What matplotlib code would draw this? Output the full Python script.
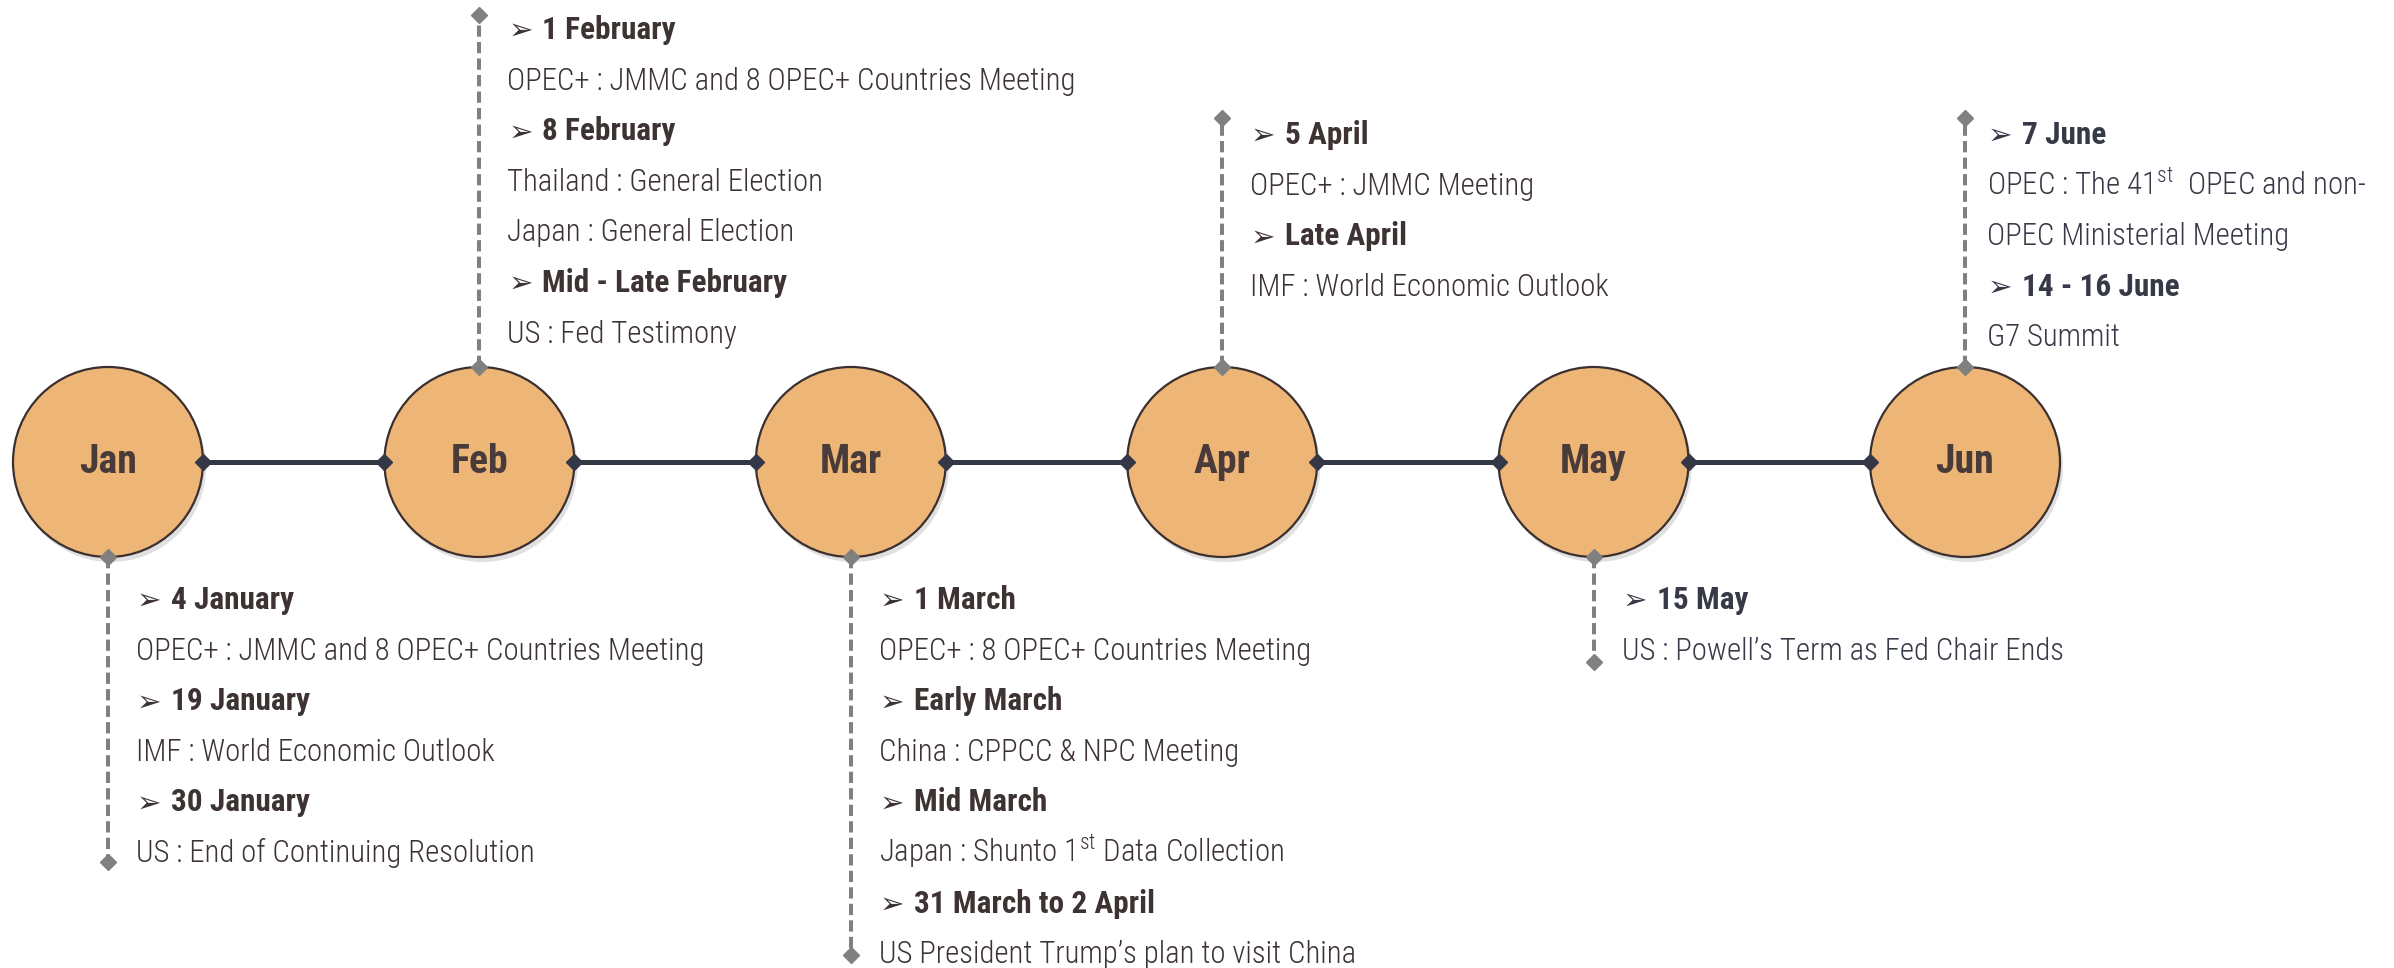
import matplotlib
matplotlib.use("Agg")
from matplotlib import pyplot as plt
from matplotlib import font_manager
from matplotlib.patches import Circle

# ---- data ----
months = ["Jan", "Feb", "Mar", "Apr", "May", "Jun"]

jan_events = [("4 January", ["OPEC+ : JMMC and 8 OPEC+ Countries Meeting"]),
              ("19 January", ["IMF : World Economic Outlook"]),
              ("30 January", ["US : End of Continuing Resolution"])]
feb_events = [("1 February", ["OPEC+ : JMMC and 8 OPEC+ Countries Meeting"]),
              ("8 February", ["Thailand : General Election", "Japan : General Election"]),
              ("Mid - Late February", ["US : Fed Testimony"])]
mar_events = [("1 March", ["OPEC+ : 8 OPEC+ Countries Meeting"]),
              ("Early March", ["China : CPPCC & NPC Meeting"]),
              ("Mid March", [r"Japan : Shunto 1$^{\mathrm{st}}$ Data Collection"]),
              ("31 March to 2 April", ["US President Trump\u2019s plan to visit China"])]
apr_events = [("5 April", ["OPEC+ : JMMC Meeting"]),
              ("Late April", ["IMF : World Economic Outlook"])]
may_events = [("15 May", ["US : Powell\u2019s Term as Fed Chair Ends"])]
jun_events = [("7 June", [r"OPEC : The 41$^{\mathrm{st}}$  OPEC and non-", "OPEC Ministerial Meeting"]),
              ("14 - 16 June", ["G7 Summit"])]

month_events = [jan_events, feb_events, mar_events, apr_events, may_events, jun_events]

# ---- layout ----
W, H = 2394, 968
x_first, x_step = 108, 371.4
cy, radius = 462, 95
side = ["below", "above", "below", "above", "below", "above"]
first_line_y = [598, 28, 598, 133, 598, 133]
stem_end = [862, 15, 955, 118, 662, 118]
text_dx = [0, 0, 0, 0, 0, -6]
line_gap = 50.6

fill_col = "#EDB677"
edge_col = "#3b2f2f"
link_col = "#343745"
stem_col = "#808080"
text_cols = ["#3d3333", "#3d3333", "#3d3333", "#3d3333", "#363a47", "#363a47"]

names = {f.name for f in font_manager.fontManager.ttflist}
body_font = "DejaVu Sans"
for cand in ["Roboto Condensed", "Liberation Sans Narrow", "Roboto", "Open Sans"]:
    if cand in names:
        body_font = cand
        break
body_weight = "light" if body_font.startswith("Roboto") else "normal"

plt.rcParams["mathtext.fontset"] = "custom"
plt.rcParams["mathtext.rm"] = body_font + ":" + body_weight
plt.rcParams["mathtext.it"] = body_font + ":" + body_weight
plt.rcParams["mathtext.bf"] = body_font

fig = plt.figure(figsize=(W / 100, H / 100), dpi=100)
ax = fig.add_axes([0, 0, 1, 1])
ax.set_xlim(0, W)
ax.set_ylim(H, 0)
ax.axis("off")
renderer = fig.canvas.get_renderer()


def fit_size(text, target_px, **kw):
    t = ax.text(0, 0, text, fontsize=20, **kw)
    w = t.get_window_extent(renderer).width
    t.remove()
    return 20 * target_px / w


body_size = fit_size("OPEC+ : JMMC and 8 OPEC+ Countries Meeting", 568,
                     family=body_font, weight=body_weight)
head_size = fit_size("Mid - Late February", 244, family=body_font, weight="bold")
month_size = fit_size("Jan", 58, family=body_font, weight="bold")
base_off = 0.36 * body_size / 0.72

centers = [x_first + i * x_step for i in range(len(months))]

# links between circles
for i in range(len(months) - 1):
    xs = [centers[i] + radius, centers[i + 1] - radius]
    ax.plot(xs, [cy, cy], color=link_col, lw=3.6, zorder=3,
            marker="D", ms=8, mfc=link_col, mec=link_col)

for i, m in enumerate(months):
    cx = centers[i]
    ax.add_patch(Circle((cx + 3, cy + 5), radius, color="#000000", alpha=0.12, lw=0, zorder=1))
    ax.add_patch(Circle((cx, cy), radius, facecolor=fill_col, edgecolor=edge_col, lw=1.6, zorder=2))
    ax.text(cx, cy, m, ha="center", va="center", fontsize=month_size,
            family=body_font, weight="bold", color="#4a3b3b", zorder=5)

    # dashed stem
    y0 = cy + radius if side[i] == "below" else cy - radius
    ax.plot([cx, cx], [y0, stem_end[i]], color=stem_col, lw=2.9,
            ls=(0, (2.8, 1.3)), zorder=3)
    ax.plot([cx, cx], [y0, stem_end[i]], ls="none", marker="D", ms=8,
            color=stem_col, zorder=4)

    col = text_cols[i]
    tx = cx + text_dx[i]
    y = first_line_y[i]
    for head, descs in month_events[i]:
        ax.text(tx + 29, y + base_off, "\u27A2", fontsize=body_size * 0.95,
                family="DejaVu Sans", color=col, va="baseline")
        ax.text(tx + 63, y + base_off, head, fontsize=head_size, family=body_font,
                weight="bold", color=col, va="baseline")
        y += line_gap
        for d in descs:
            ax.text(tx + 28, y + base_off, d, fontsize=body_size, family=body_font,
                    weight=body_weight, color=col, va="baseline")
            y += line_gap

fig.savefig("out.png", dpi=100, facecolor="white")
